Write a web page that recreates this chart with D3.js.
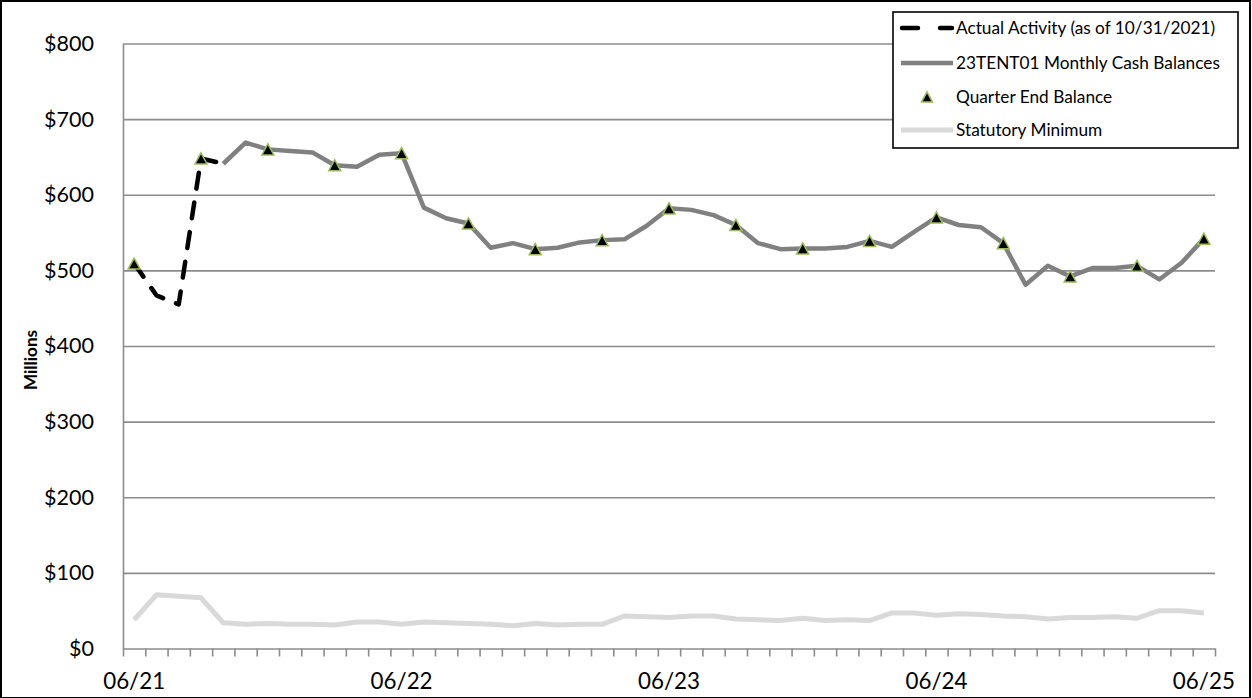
<!DOCTYPE html>
<html>
<head>
<meta charset="utf-8">
<script src="https://cdn.jsdelivr.net/npm/d3@7"></script>
<style>
  html, body { margin: 0; padding: 0; background: #fff; }
  svg { display: block; }
  text { font-family: Lato, "Open Sans", "DejaVu Sans", sans-serif; fill: #000; }
</style>
</head>
<body>
<svg id="chart" width="1252" height="698"></svg>
<script>
// ---------- data ----------
const months = ["06/21","07/21","08/21","09/21","10/21","11/21","12/21","01/22","02/22","03/22","04/22","05/22",
                "06/22","07/22","08/22","09/22","10/22","11/22","12/22","01/23","02/23","03/23","04/23","05/23",
                "06/23","07/23","08/23","09/23","10/23","11/23","12/23","01/24","02/24","03/24","04/24","05/24",
                "06/24","07/24","08/24","09/24","10/24","11/24","12/24","01/25","02/25","03/25","04/25","05/25",
                "06/25"];
const tickLabels = ["06/21","06/22","06/23","06/24","06/25"];
const yTicks = [0,100,200,300,400,500,600,700,800];

const actualMonths = ["06/21","07/21","08/21","09/21","10/21"];
const actualValues = [509, 467, 455, 648, 641];

const balanceMonths = months.slice(4);
const balanceValues = [641, 669, 660, 658, 656, 639, 637, 653, 655, 583, 569, 562, 530, 536, 528, 530, 537, 540,
                       541, 559, 582, 580, 573, 560, 536, 528, 529, 529, 531, 539, 531, 551, 570, 560, 557, 536,
                       481, 506, 492, 503, 503, 506, 488, 510, 542];

const quarterMonths = ["06/21","09/21","12/21","03/22","06/22","09/22","12/22","03/23","06/23","09/23","12/23",
                       "03/24","06/24","09/24","12/24","03/25","06/25"];
const quarterValues = [509, 648, 660, 639, 655, 562, 528, 540, 582, 560, 529, 539, 570, 536, 492, 506, 542];

const statutoryValues = [38, 71, 69, 67, 34, 32, 33, 32, 32, 31, 35, 35, 32, 35, 34, 33, 32, 30, 33, 31, 32, 32,
                         43, 42, 41, 43, 43, 39, 38, 37, 40, 37, 38, 37, 47, 47, 44, 46, 45, 43, 42, 39, 41, 41,
                         42, 40, 50, 50, 47];

const legendLabels = ["Actual Activity (as of 10/31/2021)", "23TENT01 Monthly Cash Balances",
                      "Quarter End Balance", "Statutory Minimum"];

// ---------- layout ----------
const svg = d3.select("#chart");
const plot = { left: 123, right: 1215, top: 43.5, bottom: 648.5 };

const x = d3.scaleBand().domain(months).range([plot.left, plot.right]).paddingInner(0).paddingOuter(0);
const cx = m => x(m) + x.bandwidth() / 2;
const y = d3.scaleLinear().domain([0, 800]).range([plot.bottom, plot.top]);
const boundary = d3.scaleLinear().domain([0, months.length]).range([plot.left, plot.right]);

// chart border
svg.append("rect").attr("x", 1).attr("y", 1).attr("width", 1249).attr("height", 697)
  .attr("fill", "#fff").attr("stroke", "#000").attr("stroke-width", 2);

function fitFont(sample, target, base, weight) {
  const t = svg.append("text").attr("font-size", base).attr("font-weight", weight || "normal").text(sample);
  const w = t.node().getComputedTextLength();
  t.remove();
  return base * target / w;
}

// gridlines
svg.append("g")
  .attr("transform", `translate(${plot.left},0)`)
  .call(d3.axisRight(y).tickValues(yTicks.slice(1)).tickSize(plot.right - plot.left).tickFormat(""))
  .call(g => g.select(".domain").remove())
  .call(g => g.selectAll("line").attr("stroke", "#8c8c8c").attr("stroke-width", 1.6));

// y axis
const yFont = fitFont("$800", 50, 20);
svg.append("g")
  .attr("transform", `translate(${plot.left},0)`)
  .call(d3.axisLeft(y).tickValues(yTicks).tickSize(0).tickPadding(29).tickFormat(d => "$" + d))
  .call(g => g.select(".domain").attr("stroke", "#8c8c8c").attr("stroke-width", 1.6))
  .call(g => g.selectAll("text").attr("font-size", yFont).attr("fill", "#000")
      .style("font-family", "Lato, 'Open Sans', sans-serif"));

// x axis tick marks at category boundaries
svg.append("g")
  .attr("transform", `translate(0,${plot.bottom})`)
  .call(d3.axisBottom(boundary).tickValues(d3.range(months.length + 1)).tickSizeInner(8).tickSizeOuter(0).tickFormat(""))
  .call(g => g.select(".domain").attr("stroke", "#8c8c8c").attr("stroke-width", 1.6))
  .call(g => g.selectAll("line").attr("stroke", "#8c8c8c").attr("stroke-width", 1.6));

// x labels (band axis centres labels on the month)
const xFont = fitFont("06/21", 62, 20);
svg.append("g")
  .attr("transform", `translate(0,${plot.bottom})`)
  .call(d3.axisBottom(x).tickValues(tickLabels).tickSize(0).tickPadding(25))
  .call(g => g.select(".domain").remove())
  .call(g => g.selectAll("text").attr("font-size", xFont).attr("fill", "#000")
      .style("font-family", "Lato, 'Open Sans', sans-serif"));

// y title
svg.append("text")
  .attr("transform", "translate(37,360) rotate(-90)")
  .attr("text-anchor", "middle")
  .attr("font-size", fitFont("Millions", 60, 15, "bold")).attr("font-weight", "bold")
  .text("Millions");

// lines
const line = d3.line().x(d => cx(d[0])).y(d => y(d[1]));

svg.append("path")
  .datum(months.map((m, i) => [m, statutoryValues[i]]))
  .attr("d", line).attr("fill", "none").attr("stroke", "#d9d9d9").attr("stroke-width", 5)
  .attr("stroke-linejoin", "round");

svg.append("path")
  .datum(balanceMonths.map((m, i) => [m, balanceValues[i]]))
  .attr("d", line).attr("fill", "none").attr("stroke", "#808080").attr("stroke-width", 4.5)
  .attr("stroke-linejoin", "round");

svg.append("path")
  .datum(actualMonths.map((m, i) => [m, actualValues[i]]))
  .attr("d", line).attr("fill", "none").attr("stroke", "#000").attr("stroke-width", 4.5)
  .attr("stroke-dasharray", "16,14").attr("stroke-linecap", "round").attr("stroke-linejoin", "round");

// triangles
function tri(s) {
  const h = s * 0.92;
  return `M0,${-h / 2}L${s / 2},${h / 2}L${-s / 2},${h / 2}Z`;
}
svg.append("g").selectAll("path")
  .data(quarterMonths.map((m, i) => [m, quarterValues[i]]))
  .join("path")
  .attr("transform", d => `translate(${cx(d[0])},${y(d[1])})`)
  .attr("d", tri(12)).attr("fill", "#000").attr("stroke", "#9bbb59").attr("stroke-width", 1.5);

// legend
const lg = svg.append("g");
lg.append("rect").attr("x", 893).attr("y", 12).attr("width", 345).attr("height", 136)
  .attr("fill", "#fff").attr("stroke", "#000").attr("stroke-width", 1.6);
const legFont = fitFont(legendLabels[1], 264, 16);
const rowsY = [28, 63, 97, 130];
lg.selectAll("text.leg").data(legendLabels).join("text")
  .attr("class", "leg")
  .attr("x", 956).attr("y", (d, i) => rowsY[i]).attr("dy", "0.35em")
  .attr("font-size", legFont).text(d => d);
lg.append("line").attr("x1", 902).attr("x2", 952).attr("y1", rowsY[0]).attr("y2", rowsY[0])
  .attr("stroke", "#000").attr("stroke-width", 4.5).attr("stroke-linecap", "round").attr("stroke-dasharray", "16,22");
lg.append("line").attr("x1", 901).attr("x2", 953).attr("y1", rowsY[1]).attr("y2", rowsY[1])
  .attr("stroke", "#808080").attr("stroke-width", 4.5);
lg.append("path").attr("transform", `translate(927,${rowsY[2]})`).attr("d", tri(11))
  .attr("fill", "#000").attr("stroke", "#9bbb59").attr("stroke-width", 1.5);
lg.append("line").attr("x1", 901).attr("x2", 953).attr("y1", rowsY[3]).attr("y2", rowsY[3])
  .attr("stroke", "#d9d9d9").attr("stroke-width", 5);
</script>
</body>
</html>
